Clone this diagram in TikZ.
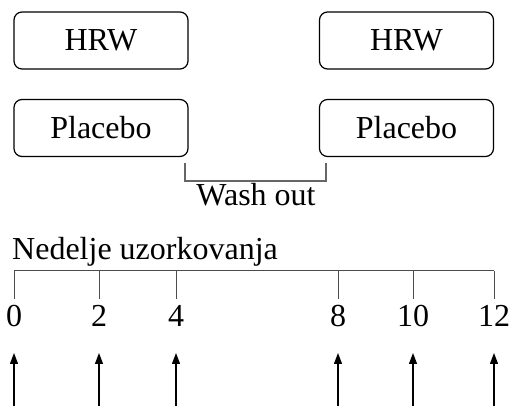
\documentclass[tikz,border=0pt]{standalone}
\usepackage{fontspec}
\setmainfont{Liberation Serif}
\usetikzlibrary{arrows.meta}
\begin{document}
\begin{tikzpicture}[x=1pt,y=-1pt,
  box/.style={draw,line width=1.2pt,rounded corners=8pt,minimum width=174pt,minimum height=57pt,inner sep=0pt,font=\fontsize{32}{36}\selectfont},
  lbl/.style={font=\fontsize{32}{36}\selectfont,inner sep=0pt},
  tick/.style={draw=black!70,line width=1pt},
  up/.style={line width=1.3pt,-{Triangle[length=11pt,width=8pt]}}]
\useasboundingbox (0,0) rectangle (512,406);
\node[box] (hrw1) at (101,40.5) {HRW};
\node[box] (pl1) at (101,128) {Placebo};
\node[box] (hrw2) at (406.5,40.5) {HRW};
\node[box] (pl2) at (406.5,128) {Placebo};
\coordinate (b1) at (185,163);
\coordinate (b2) at (326,163);
\draw[draw=black!60,line width=2pt] (b1) -- (185,181) -- (326,181) -- (b2);
\node[lbl,anchor=base] (wash) at (256,206) {Wash out};
\node[lbl,anchor=base west] (ned) at (12,260) {Nedelje uzorkovanja};
\coordinate (l0) at (14,271);
\coordinate (l12) at (494,271);
\draw[tick] (l0) -- (l12);
\foreach \x/\t/\n in {14/0/a,99/2/b,176/4/c,338/8/d,413/10/e,494/12/f}{
  \coordinate (t\n) at (\x,271);
  \coordinate (s\n) at (\x,299);
  \draw[tick] (t\n) -- (s\n);
  \node[lbl,anchor=base] (n\n) at (\x,327) {\t};
  \coordinate (a\n) at (\x,407);
  \coordinate (h\n) at (\x,353);
  \draw[up] (a\n) -- (h\n);
}
\end{tikzpicture}
\end{document}
